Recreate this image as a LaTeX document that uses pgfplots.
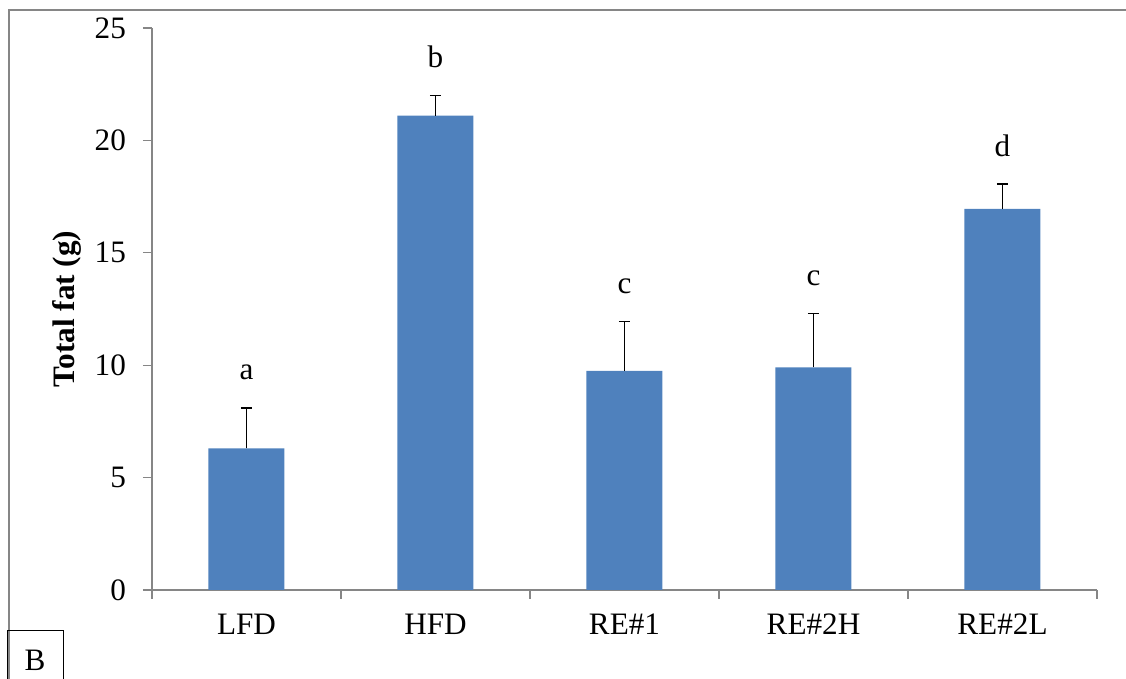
\documentclass[border=0pt]{standalone}
\usepackage{pgfplots}
\pgfplotsset{compat=1.18}
\usepackage{fontspec}
\setmainfont{Liberation Serif}
\definecolor{barblue}{HTML}{4F81BD}
\definecolor{axgray}{HTML}{868686}
\begin{document}
\begin{tikzpicture}
\useasboundingbox (0,0) rectangle (563pt,339.5pt);
\draw[axgray, line width=0.7pt] (4.5pt,-2pt) -- (4.5pt,334.5pt) -- (570pt,334.5pt);
\begin{axis}[
  at={(76pt,44.5pt)}, anchor=south west,
  scale only axis, width=472.5pt, height=281pt,
  xmin=-0.5, xmax=4.5, ymin=0, ymax=25,
  axis lines*=left,
  axis line style={axgray, line width=0.6pt},
  tick align=outside,
  xtick={0,1,2,3,4},
  xticklabels={LFD,HFD,RE\#1,RE\#2H,RE\#2L},
  major x tick style={draw=none},
  minor xtick={-0.5,0.5,1.5,2.5,3.5,4.5},
  minor x tick style={axgray, line width=0.6pt},
  minor tick length=4.5pt,
  ytick={0,5,10,15,20,25},
  major y tick style={axgray, line width=0.6pt},
  major tick length=4.5pt,
  tick label style={font=\fontsize{15.6}{18}\selectfont},
  /pgf/number format/assume math mode=true,
  yticklabel style={xshift=-5pt},
  xticklabel style={yshift=-4pt},
  ylabel={\textbf{Total fat (g)}},
  ylabel style={font=\fontsize{15.6}{18}\selectfont, at={(axis description cs:-0.09,0.5)}, anchor=center, rotate=0},
  clip=false,
]
\addplot[ybar, bar width=38pt, fill=barblue, draw=none,
  error bars/.cd, y dir=plus, y explicit,
  error bar style={black, line width=0.75pt},
  error mark options={rotate=90, mark size=2.75pt, line width=0.75pt, black}]
  coordinates {(0,6.3) +- (0,1.8) (1,21.1) +- (0,0.9) (2,9.75) +- (0,2.2) (3,9.9) +- (0,2.4) (4,16.95) +- (0,1.1)};
\addplot[draw=none, mark=none, nodes near coords, point meta=explicit symbolic,
  nodes near coords style={anchor=base, yshift=14pt, font=\fontsize{15.6}{18}\selectfont, text=black}]
  coordinates {(0,8.1)[a] (1,22.0)[b] (2,11.95)[c] (3,12.3)[c] (4,18.05)[d]};
\end{axis}
\draw[black, line width=0.5pt] (3.5pt,-2pt) -- (3.5pt,24pt) -- (31.5pt,24pt) -- (31.5pt,-2pt);
\node[anchor=base, font=\fontsize{15.6}{18}\selectfont] at (17.5pt,4pt) {B};
\end{tikzpicture}
\end{document}
